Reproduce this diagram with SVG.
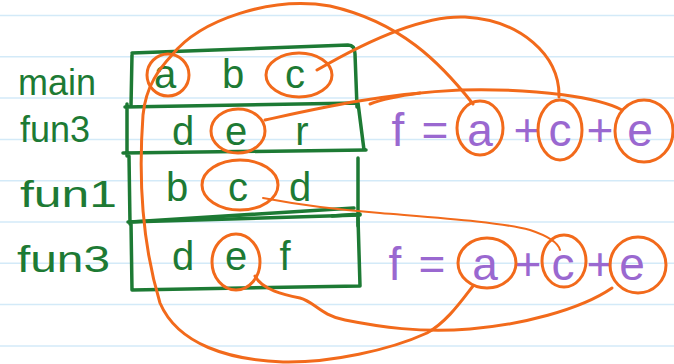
<svg xmlns="http://www.w3.org/2000/svg" width="674" height="364" viewBox="0 0 674 364">
<style>
.rule{stroke:#d3eaf8;stroke-width:1.5}
.box{fill:none;stroke:#1d7a34;stroke-width:3.5;stroke-linecap:round;stroke-linejoin:round}
.lbl{fill:#1d7a34;font-family:"Liberation Sans",Arial,sans-serif;font-size:36px}
.var{fill:#1d7a34;font-family:"Liberation Sans",Arial,sans-serif;font-size:40px;text-anchor:middle}
.fx{fill:#9a68d0;font-family:"Liberation Sans",Arial,sans-serif;font-size:46px;text-anchor:middle}
.ring{fill:none;stroke:#f26a1b;stroke-width:3}
.wire{fill:none;stroke:#f26a1b;stroke-width:3;stroke-linecap:round;stroke-linejoin:round}
.thin{stroke-width:2}
</style>
<rect width="674" height="364" fill="#ffffff"/>
<g id="paper">
<line class="rule" x1="0" y1="15.5" x2="674" y2="15.5"/>
<line class="rule" x1="0" y1="56.8" x2="674" y2="56.8"/>
<line class="rule" x1="0" y1="98.1" x2="674" y2="98.1"/>
<line class="rule" x1="0" y1="139.4" x2="674" y2="139.4"/>
<line class="rule" x1="0" y1="180.7" x2="674" y2="180.7"/>
<line class="rule" x1="0" y1="222" x2="674" y2="222"/>
<line class="rule" x1="0" y1="263.3" x2="674" y2="263.3"/>
<line class="rule" x1="0" y1="304.6" x2="674" y2="304.6"/>
<line class="rule" x1="0" y1="345.9" x2="674" y2="345.9"/>
</g>
<g id="frame-main">
<path class="box" d="M132,53 L348,45 Q355,45 355,54 L357,107 M132,55 L131,106"/>
<text class="lbl" x="18" y="95">main</text>
<text class="var" x="165" y="88">a</text>
<text class="var" x="233" y="88">b</text>
<text class="var" x="295" y="88">c</text>
<ellipse class="ring" cx="168" cy="75" rx="21" ry="21"/>
<ellipse class="ring" cx="299" cy="75" rx="33" ry="22"/>
</g>
<g id="frame-fun3">
<path class="box" d="M125,107 L358,103 L364,150 M123,153 L366,150 M127,104 L127,156"/>
<text class="lbl" x="20" y="142">fun3</text>
<text class="var" x="183" y="145">d</text>
<text class="var" x="236" y="145">e</text>
<text class="var" x="302" y="145">r</text>
<ellipse class="ring" cx="238" cy="131" rx="27" ry="22"/>
</g>
<g id="frame-fun1">
<path class="box" d="M129,156 L130,224 M358,158 L358,226 M130,222 L354,208 M332,216 L360,214"/>
<text class="lbl" x="20" y="207" textLength="97" lengthAdjust="spacingAndGlyphs">fun1</text>
<text class="var" x="177" y="201">b</text>
<text class="var" x="238" y="201">c</text>
<text class="var" x="300" y="201">d</text>
<ellipse class="ring" cx="240" cy="185" rx="38" ry="25"/>
</g>
<g id="frame-fun3b">
<path class="box" d="M128,222 L360,215 M131,222 L132,290 L360,286 M358,218 L360,286"/>
<text class="lbl" x="17" y="272" textLength="93" lengthAdjust="spacingAndGlyphs">fun3</text>
<text class="var" x="183" y="270">d</text>
<text class="var" x="236" y="270">e</text>
<text class="var" x="285" y="270">f</text>
<ellipse class="ring" cx="236" cy="262" rx="24" ry="28"/>
</g>
<g id="formula-1">
<text class="fx" x="398" y="146">f</text>
<text class="fx" x="435" y="146">=</text>
<text class="fx" x="480" y="146">a</text>
<text class="fx" x="527" y="146">+</text>
<text class="fx" x="560" y="146">c</text>
<text class="fx" x="600" y="146">+</text>
<text class="fx" x="640" y="146">e</text>
<ellipse class="ring" cx="480" cy="128" rx="23" ry="27"/>
<ellipse class="ring" cx="560" cy="130" rx="22" ry="30"/>
<ellipse class="ring" cx="644" cy="131" rx="29" ry="31"/>
</g>
<g id="formula-2">
<text class="fx" x="395" y="280">f</text>
<text class="fx" x="432" y="280">=</text>
<text class="fx" x="485" y="280">a</text>
<text class="fx" x="528" y="280">+</text>
<text class="fx" x="563" y="280">c</text>
<text class="fx" x="600" y="280">+</text>
<text class="fx" x="632" y="280">e</text>
<ellipse class="ring" cx="487" cy="263" rx="29" ry="25"/>
<ellipse class="ring" cx="564" cy="261" rx="22" ry="26"/>
<ellipse class="ring" cx="638" cy="265" rx="28" ry="28"/>
</g>
<g id="connectors">
<path class="wire" d="M473,104 C440,62 400,22 330,6 C270,-4 200,20 172,55 C160,68 146,85 143,115 C139,170 141,240 160,303 C178,345 230,360 283,362 C330,363 390,350 427,333 C447,322 462,300 473,286"/>
<path class="wire" d="M317,70 C360,45 420,15 465,17 C520,20 560,55 559,97"/>
<path class="wire" d="M265,120 C320,108 380,94 460,90 C540,88 600,98 622,110"/>
<path class="wire" d="M370,104 C385,98 405,95 420,93"/>
<path class="wire thin" d="M263,198 C300,205 340,210 380,213 C440,218 500,222 530,230 C548,236 558,242 560,250"/>
<path class="wire" d="M255,276 C262,290 285,295 300,298 C315,302 320,315 345,320 C380,327 420,333 470,329 C520,325 580,310 612,288"/>
</g>
</svg>
